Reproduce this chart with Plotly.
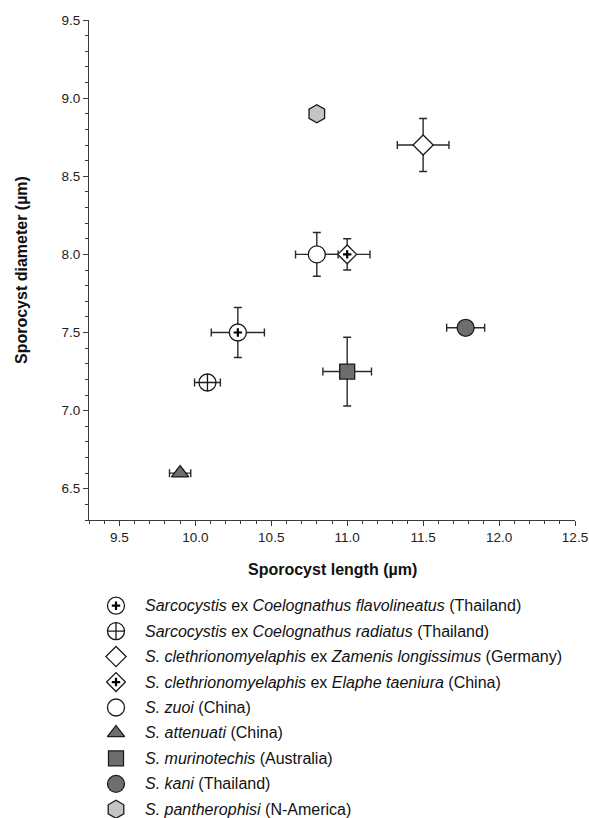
import plotly.graph_objects as go

# ---------------- data ----------------
species = [
    "<i>Sarcocystis</i> ex <i>Coelognathus flavolineatus</i> (Thailand)",
    "<i>Sarcocystis</i> ex <i>Coelognathus radiatus</i> (Thailand)",
    "<i>S. clethrionomyelaphis</i> ex <i>Zamenis longissimus</i> (Germany)",
    "<i>S. clethrionomyelaphis</i> ex <i>Elaphe taeniura</i> (China)",
    "<i>S. zuoi</i> (China)",
    "<i>S. attenuati</i> (China)",
    "<i>S. murinotechis</i> (Australia)",
    "<i>S. kani</i> (Thailand)",
    "<i>S. pantherophisi</i> (N-America)",
]
length = [10.28, 10.08, 11.5, 11.0, 10.8, 9.9, 11.0, 11.78, 10.8]
length_err = [0.175, 0.085, 0.17, 0.15, 0.14, 0.07, 0.16, 0.125, 0.0]
diameter = [7.50, 7.18, 8.70, 8.00, 8.00, 6.60, 7.25, 7.53, 8.90]
diameter_err = [0.16, 0.05, 0.17, 0.10, 0.14, 0.02, 0.22, 0.0, 0.0]

x_ticks = [9.5, 10.0, 10.5, 11.0, 11.5, 12.0, 12.5]
y_ticks = [6.5, 7.0, 7.5, 8.0, 8.5, 9.0, 9.5]

# ---------------- styles ----------------
symbols = ["circle", "circle-cross", "diamond", "diamond", "circle",
           "triangle-up", "square", "circle", "hexagon"]
inner_plus = [True, False, False, True, False, False, False, False, False]
fills = ["white", "white", "white", "white", "white",
         "#6e6e6e", "#6e6e6e", "#6e6e6e", "#c4c4c4"]
sizes = [17, 17, 15.5, 14.5, 17, 15, 15, 17, 18]

FONT = "Liberation Sans, Arial, Helvetica, sans-serif"
W, H = 589, 818
L_M, R_M = 89, 14
plot_top, plot_bot = 20, 520
leg_top, leg_bot = 593, 818

fig = go.Figure()

edge = "#1a1a1a"
bar_col = "#2a2a2a"

for i in range(len(species)):
    ex = dict(type="data", array=[length_err[i]], visible=length_err[i] > 0,
              color=bar_col, thickness=1.4, width=4)
    ey = dict(type="data", array=[diameter_err[i]], visible=diameter_err[i] > 0,
              color=bar_col, thickness=1.4, width=4)
    fig.add_trace(go.Scatter(
        x=[length[i]], y=[diameter[i]], mode="markers",
        marker=dict(symbol=symbols[i], size=sizes[i], color=fills[i],
                    line=dict(color=edge, width=1.3)),
        error_x=ex, error_y=ey, showlegend=False, hoverinfo="skip",
        xaxis="x", yaxis="y"))
    if inner_plus[i]:
        fig.add_trace(go.Scatter(
            x=[length[i]], y=[diameter[i]], mode="markers",
            marker=dict(symbol="cross-thin", size=6,
                        line=dict(color="black", width=2.2)),
            showlegend=False, hoverinfo="skip", xaxis="x", yaxis="y"))

# ---------------- manual legend (second, hidden axes) ----------------
rows = list(range(len(species)))
for i in rows:
    fig.add_trace(go.Scatter(
        x=[0], y=[i], mode="markers",
        marker=dict(symbol=symbols[i], size=sizes[i], color=fills[i],
                    line=dict(color=edge, width=1.3)),
        showlegend=False, hoverinfo="skip", xaxis="x2", yaxis="y2"))
    if inner_plus[i]:
        fig.add_trace(go.Scatter(
            x=[0], y=[i], mode="markers",
            marker=dict(symbol="cross-thin", size=6,
                        line=dict(color="black", width=2.2)),
            showlegend=False, hoverinfo="skip", xaxis="x2", yaxis="y2"))

annotations = []
for i, name in enumerate(species):
    annotations.append(dict(
        x=27, y=i, xref="x2", yref="y2", text=name, showarrow=False,
        xanchor="left", yanchor="middle",
        font=dict(family=FONT, size=16, color="#111")))

# axis titles
annotations.append(dict(
    x=0.5, y=1 - 569 / H, xref="paper", yref="paper",
    text="<b>Sporocyst length (µm)</b>", showarrow=False,
    xanchor="center", yanchor="middle",
    font=dict(family=FONT, size=16, color="#111")))
annotations.append(dict(
    x=(21 - L_M) / (W - L_M - R_M), y=1 - ((plot_top + plot_bot) / 2) / H,
    xref="paper", yref="paper",
    text="<b>Sporocyst diameter (µm)</b>", showarrow=False, textangle=-90,
    xanchor="center", yanchor="middle",
    font=dict(family=FONT, size=16, color="#111")))

axis_common = dict(
    showgrid=False, zeroline=False, showline=True, linecolor="#3a3a3a",
    linewidth=1.2, ticks="outside", ticklen=5, tickwidth=1.2,
    tickcolor="#3a3a3a", tickformat=".1f",
    tickfont=dict(family=FONT, size=13.5, color="#222"),
    minor=dict(dtick=0.1, ticks="outside", ticklen=3, tickwidth=1,
               tickcolor="#3a3a3a", showgrid=False),
)

fig.update_layout(
    width=W, height=H,
    margin=dict(l=L_M, r=R_M, t=0, b=0, autoexpand=False),
    paper_bgcolor="white", plot_bgcolor="white",
    showlegend=False,
    xaxis=dict(range=[9.3, 12.5], tickvals=x_ticks, domain=[0, 1],
               anchor="y", **axis_common),
    yaxis=dict(range=[6.3, 9.5], tickvals=y_ticks,
               domain=[1 - plot_bot / H, 1 - plot_top / H],
               anchor="x", **axis_common),
    xaxis2=dict(range=[-27, 459], domain=[0, 1], visible=False,
                anchor="y2", fixedrange=True),
    yaxis2=dict(range=[8 + (H - 809.3) / 25.45, -0.5],
                domain=[0, (H - leg_top) / H], visible=False,
                anchor="x2", fixedrange=True),
    annotations=annotations,
)

fig.write_html(
    "out.html",
    config={"displayModeBar": False},
    post_script="document.body.style.margin='0';document.body.style.overflow='hidden';",
)
